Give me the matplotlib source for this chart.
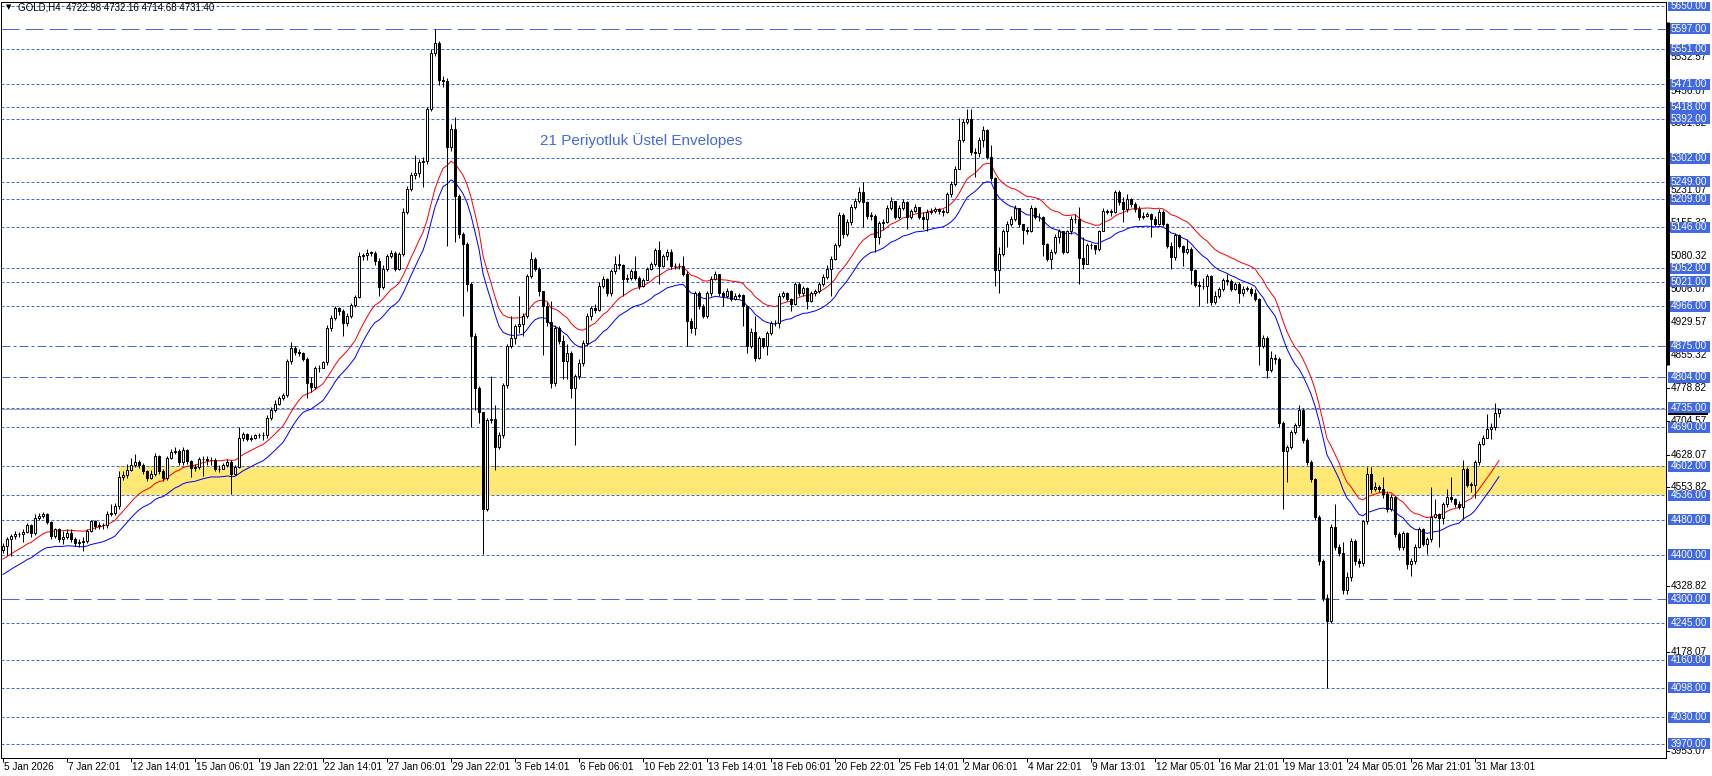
import numpy as np
import matplotlib
matplotlib.use("Agg")
import matplotlib.pyplot as plt
from matplotlib.patches import Rectangle

plt.rcParams['font.family'] = ['Liberation Sans', 'DejaVu Sans']
plt.rcParams['lines.scale_dashes'] = False

W, H = 1712, 776
PX = 0.72  # one pixel in points (dpi 100)
BLUE = '#4169E1'

# ---------------- data ----------------
symbol_info = "GOLD,H4  4722.98 4732.16 4714.68 4731.40"
first_open = 4410

closes = [
    4420, 4436, 4442, 4448, 4447, 4453, 4468, 4450, 4485, 4489,
    4492, 4474, 4442, 4458, 4436, 4440, 4450, 4436, 4428, 4430,
    4432, 4455, 4476, 4465, 4468, 4467, 4492, 4495, 4512, 4578,
    4582, 4594, 4605, 4611, 4605, 4590, 4575, 4585, 4626, 4590,
    4574, 4620, 4634, 4637, 4612, 4638, 4613, 4597, 4600, 4618,
    4619, 4616, 4615, 4595, 4596, 4605, 4612, 4585, 4600, 4665,
    4674, 4664, 4666, 4672, 4673, 4673, 4712, 4730, 4743, 4758,
    4763, 4840, 4870, 4862, 4860, 4845, 4790, 4782, 4825, 4826,
    4838, 4916, 4938, 4961, 4955, 4927, 4944, 4969, 4987, 5079,
    5082, 5088, 5088, 5068, 5010, 5050, 5079, 5088, 5051, 5085,
    5181, 5232, 5265, 5268, 5294, 5296, 5415, 5542, 5564, 5480,
    5478, 5327, 5370, 5217, 5130, 5107, 5017, 4899, 4780, 4724,
    4504, 4707, 4709, 4645, 4673, 4786, 4876, 4893, 4921, 4925,
    4944, 5034, 5074, 5051, 5000, 4966, 4930, 4792, 4916, 4887,
    4842, 4859, 4780, 4808, 4837, 4882, 4944, 4961, 4958, 5012,
    5028, 4995, 5045, 5062, 5060, 5028, 5030, 5045, 5030, 5012,
    5025, 5051, 5062, 5093, 5057, 5081, 5090, 5057, 5058, 5057,
    5040, 4933, 4916, 4995, 4966, 4944, 4995, 5028, 5040, 4995,
    4990, 5000, 4983, 4989, 4991, 4966, 4876, 4908, 4848, 4893,
    4876, 4904, 4927, 4927, 4989, 4995, 4983, 4970, 5017, 4995,
    5008, 4978, 4995, 5000, 5017, 5032, 5051, 5074, 5104, 5174,
    5130, 5158, 5192, 5206, 5226, 5203, 5172, 5172, 5124, 5156,
    5158, 5190, 5206, 5169, 5190, 5203, 5169, 5183, 5192, 5169,
    5164, 5181, 5183, 5187, 5183, 5181, 5220, 5243, 5277, 5344,
    5384, 5392, 5316, 5314, 5344, 5367, 5305, 5257, 5048, 5085,
    5136, 5153, 5164, 5190, 5153, 5140, 5138, 5190, 5169, 5169,
    5107, 5074, 5090, 5124, 5138, 5090, 5136, 5164, 5164, 5075,
    5062, 5104, 5104, 5096, 5136, 5183, 5181, 5181, 5226, 5203,
    5186, 5209, 5198, 5186, 5169, 5170, 5175, 5164, 5153, 5181,
    5153, 5102, 5077, 5127, 5102, 5090, 5096, 5048, 5014, 5012,
    5012, 5034, 4975, 4990, 5006, 5025, 5023, 5006, 5017, 4995,
    5006, 5006, 4995, 4983, 4876, 4893, 4820, 4848, 4845, 4701,
    4637, 4645, 4679, 4696, 4730, 4662, 4611, 4572, 4487, 4385,
    4301, 4250, 4464, 4419, 4405, 4320, 4350, 4431, 4385, 4382,
    4476, 4583, 4549, 4555, 4550, 4538, 4504, 4532, 4447, 4419,
    4450, 4380, 4385, 4419, 4459, 4425, 4436, 4487, 4493, 4484,
    4515, 4532, 4526, 4515, 4510, 4596, 4560, 4560, 4611, 4653,
    4667, 4687, 4690, 4722.98, 4731.40]

highs = [
    4428, 4440, 4448, 4455, 4452, 4458, 4472, 4470, 4492, 4496,
    4498, 4495, 4476, 4462, 4462, 4455, 4458, 4460, 4440, 4436,
    4440, 4458, 4480, 4480, 4474, 4472, 4500, 4515, 4518, 4590,
    4590, 4606, 4620, 4630, 4615, 4610, 4592, 4592, 4632, 4628,
    4595, 4625, 4642, 4645, 4640, 4645, 4642, 4615, 4606, 4622,
    4626, 4624, 4622, 4620, 4605, 4610, 4618, 4615, 4605, 4690,
    4680, 4678, 4672, 4676, 4678, 4680, 4718, 4736, 4752, 4762,
    4768, 4846, 4885, 4875, 4868, 4862, 4850, 4805, 4830, 4832,
    4842, 4922, 4945, 4966, 4965, 4960, 4950, 4972, 4992, 5090,
    5088, 5095, 5092, 5092, 5075, 5060, 5085, 5094, 5092, 5090,
    5190, 5240, 5272, 5310, 5300, 5305, 5420, 5550, 5596, 5570,
    5490, 5485, 5380, 5397, 5220, 5135, 5111, 5020, 4905, 4785,
    4726, 4712, 4808, 4741, 4680, 4790, 4880, 4944, 4925, 4989,
    4950, 5040, 5090, 5077, 5055, 4990, 4975, 4978, 4922, 4920,
    4900, 4880, 4865, 4812, 4845, 4888, 4950, 4966, 4970, 5020,
    5035, 5030, 5050, 5079, 5085, 5062, 5038, 5050, 5079, 5035,
    5030, 5055, 5066, 5098, 5115, 5085, 5096, 5096, 5064, 5063,
    5081, 5045, 4940, 5000, 5000, 4970, 5000, 5035, 5045, 5040,
    5000, 5008, 5002, 4995, 4996, 4993, 4968, 4916, 4944, 4898,
    4893, 4910, 4932, 4935, 4995, 5000, 4998, 4985, 5022, 5020,
    5012, 5010, 5000, 5006, 5022, 5040, 5060, 5080, 5110, 5180,
    5178, 5165, 5198, 5212, 5238, 5248, 5205, 5180, 5175, 5160,
    5165, 5195, 5215, 5206, 5195, 5210, 5206, 5188, 5198, 5192,
    5180, 5186, 5190, 5192, 5190, 5188, 5226, 5250, 5284, 5395,
    5392, 5415, 5415, 5325, 5350, 5375, 5370, 5333, 5260, 5100,
    5142, 5160, 5170, 5195, 5190, 5152, 5145, 5195, 5192, 5178,
    5172, 5110, 5095, 5130, 5142, 5138, 5140, 5170, 5175, 5192,
    5124, 5110, 5110, 5106, 5140, 5190, 5188, 5186, 5231, 5230,
    5215, 5220, 5212, 5202, 5194, 5180, 5180, 5178, 5170, 5186,
    5184, 5156, 5113, 5132, 5130, 5104, 5119, 5100, 5050, 5023,
    5030, 5040, 5036, 5000, 5010, 5030, 5040, 5028, 5022, 5020,
    5012, 5012, 5010, 5006, 4985, 4900, 4898, 4865, 4858, 4850,
    4705, 4650, 4685, 4700, 4741, 4735, 4666, 4615, 4575, 4490,
    4390, 4310, 4470, 4515, 4425, 4430, 4360, 4438, 4436, 4392,
    4480, 4600, 4600, 4565, 4560, 4577, 4545, 4538, 4535, 4452,
    4455, 4452, 4392, 4424, 4464, 4462, 4440, 4555, 4526, 4496,
    4520, 4549, 4577, 4530, 4522, 4617, 4600, 4565, 4616, 4658,
    4672, 4720, 4701, 4746, 4732.16]

lows = [
    4405, 4400, 4397, 4435, 4440, 4430, 4450, 4440, 4445, 4480,
    4484, 4470, 4436, 4438, 4430, 4425, 4436, 4430, 4420, 4418,
    4408, 4428, 4452, 4460, 4458, 4460, 4462, 4488, 4490, 4505,
    4570, 4575, 4590, 4600, 4598, 4585, 4568, 4572, 4580, 4585,
    4568, 4570, 4618, 4630, 4605, 4605, 4606, 4578, 4590, 4596,
    4580, 4605, 4605, 4590, 4588, 4595, 4600, 4538, 4582, 4598,
    4660, 4658, 4660, 4664, 4666, 4662, 4666, 4708, 4725, 4740,
    4752, 4760, 4835, 4855, 4852, 4840, 4758, 4770, 4778, 4815,
    4825, 4832, 4910, 4935, 4945, 4899, 4920, 4940, 4965, 4985,
    5070, 5072, 5080, 5060, 4989, 5005, 5045, 5075, 5045, 5048,
    5080, 5175, 5228, 5255, 5260, 5237, 5290, 5410, 5535, 5470,
    5465, 5102, 5320, 5113, 5120, 4944, 5000, 4690, 4730, 4700,
    4402, 4500, 4700, 4594, 4640, 4665, 4780, 4870, 4880, 4905,
    4899, 4940, 5030, 5045, 4990, 4854, 4920, 4780, 4785, 4880,
    4800, 4800, 4758, 4651, 4800, 4830, 4876, 4935, 4950, 4955,
    5008, 4990, 4990, 5040, 5050, 4989, 5020, 5025, 5025, 5005,
    5010, 5025, 5048, 5058, 5017, 5055, 5072, 5050, 5050, 5050,
    5035, 4876, 4905, 4900, 4960, 4938, 4940, 4990, 5025, 4990,
    4966, 4985, 4978, 4980, 4985, 4921, 4859, 4870, 4842, 4845,
    4870, 4855, 4900, 4920, 4916, 4985, 4978, 4955, 4968, 4990,
    4990, 4960, 4975, 4990, 4995, 5012, 5028, 4989, 5070, 5100,
    5120, 5125, 5150, 5188, 5200, 5145, 5165, 5162, 5090, 5107,
    5140, 5155, 5185, 5165, 5165, 5185, 5141, 5165, 5180, 5165,
    5141, 5136, 5176, 5178, 5176, 5172, 5178, 5215, 5240, 5277,
    5340, 5380, 5310, 5260, 5305, 5327, 5300, 5250, 5012, 4995,
    5080, 5100, 5148, 5160, 5145, 5107, 5130, 5135, 5165, 5160,
    5079, 5068, 5051, 5085, 5110, 5085, 5088, 5130, 5155, 5017,
    5051, 5062, 5095, 5085, 5092, 5136, 5175, 5172, 5178, 5195,
    5158, 5180, 5192, 5180, 5162, 5165, 5168, 5124, 5148, 5150,
    5148, 5098, 5051, 5070, 5098, 5057, 5085, 5017, 5010, 4966,
    5005, 4972, 4968, 4970, 4985, 5000, 5015, 5000, 5002, 4972,
    4990, 5000, 4990, 4978, 4831, 4870, 4803, 4815, 4835, 4690,
    4504, 4566, 4640, 4675, 4690, 4655, 4605, 4565, 4480, 4378,
    4295, 4098, 4244, 4410, 4398, 4310, 4310, 4340, 4378, 4372,
    4375, 4470, 4540, 4545, 4542, 4530, 4498, 4500, 4440, 4412,
    4412, 4368, 4352, 4380, 4415, 4420, 4402, 4430, 4485, 4419,
    4470, 4510, 4520, 4510, 4505, 4481, 4555, 4543, 4530, 4605,
    4650, 4665, 4664, 4685, 4714.68]

# envelopes: 21 period exponential, +-0.4 %
env_period = 21
env_dev = 0.4
ema_start = 4373

date_labels = ["5 Jan 2026", "7 Jan 22:01", "12 Jan 14:01", "15 Jan 06:01",
               "19 Jan 22:01", "22 Jan 14:01", "27 Jan 06:01", "29 Jan 22:01",
               "3 Feb 14:01", "6 Feb 06:01", "10 Feb 22:01", "13 Feb 14:01",
               "18 Feb 06:01", "20 Feb 22:01", "25 Feb 14:01", "2 Mar 06:01",
               "4 Mar 22:01", "9 Mar 13:01", "12 Mar 05:01", "16 Mar 21:01",
               "19 Mar 13:01", "24 Mar 05:01", "26 Mar 21:01", "31 Mar 13:01"]
date_step = 16

levels = [5650, 5597, 5551, 5471, 5418, 5392, 5302, 5249, 5209, 5146, 5052,
          5021, 4966, 4875, 4804, 4735, 4690, 4602, 4536, 4480, 4400, 4300,
          4245, 4160, 4098, 4030, 3970]
level_styles = ['dot', 'dash', 'dot', 'dot', 'dot', 'dot', 'dot', 'dot', 'dot',
                'dot', 'dot', 'dot', 'dot', 'dashdot', 'dashdot', 'dot', 'dot',
                'dot', 'dot', 'dot', 'dot', 'dash', 'dot', 'dot', 'dot', 'dot', 'dot']

# price scale ticks that are not covered by a level label
scale_ticks = [5532.57, 5456.07, 5381.82, 5231.07, 5155.32, 5080.32, 5006.07,
               4929.57, 4855.32, 4778.82, 4704.57, 4628.07, 4553.82, 4328.82,
               4178.07, 3953.07]

zone_low, zone_high = 4536, 4602
zone_start = 29
bid = 4731.40
note = "21 Periyotluk Üstel Envelopes"

y_top, y_bottom = 5658.0, 3937.8

# ---------------- figure ----------------
fig = plt.figure(figsize=(W / 100, H / 100), dpi=100)
ax = fig.add_axes([1 / W, 18 / H, 1665 / W, 756 / H])
n = len(closes)
ax.set_xlim(-0.5, 415.75)
ax.set_ylim(y_bottom, y_top)

opens = [first_open] + closes[:-1]
o = np.array(opens, float)
c = np.array(closes, float)
hi = np.maximum(np.array(highs, float), np.maximum(o, c))
lo = np.minimum(np.array(lows, float), np.minimum(o, c))
x = np.arange(n)

# yellow zone
ax.add_patch(Rectangle((zone_start, zone_low), 500, zone_high - zone_low,
                       facecolor='#FFE873', edgecolor='none', zorder=1))

dash_map = {'dot': (0, (3 * PX, 2 * PX)),
            'dash': (0, (18 * PX, 6 * PX)),
            'dashdot': (0, (9 * PX, 3 * PX, 3 * PX, 3 * PX))}
for lv, st in zip(levels, level_styles):
    ax.axhline(lv, color=BLUE, lw=PX, linestyle=dash_map[st], zorder=2)
ax.axhline(bid, color='#A3A9B8', lw=PX, zorder=2)

# envelopes
alpha = 2.0 / (env_period + 1)
ema = []
prev = ema_start
for i, v in enumerate(c):
    if i > 0:
        prev = prev + alpha * (v - prev)
    ema.append(prev)
ema = np.array(ema)
ax.plot(x, ema * (1 + env_dev / 100), color='#FF0000', lw=PX, zorder=3)
ax.plot(x, ema * (1 - env_dev / 100), color='#0000FF', lw=PX, zorder=3)

# candles
ax.vlines(x, lo, hi, color='black', lw=PX, zorder=4)
up = c >= o
body_h = np.maximum(np.abs(c - o), 0.6)
ax.bar(x[up], body_h[up], bottom=o[up], width=0.5, color='white',
       edgecolor='black', lw=PX, zorder=5)
ax.bar(x[~up], body_h[~up], bottom=c[~up], width=0.5, color='black',
       edgecolor='black', lw=PX, zorder=5)

ax.text(134.25, 5343, note, color=BLUE, fontsize=11, va='center', ha='left', zorder=6)

# frame and time scale
for s in ax.spines.values():
    s.set_color('black')
    s.set_linewidth(PX)
ax.set_yticks([])
tick_idx = [k * date_step for k in range(len(date_labels))]
ax.set_xticks(tick_idx)
ax.tick_params(axis='x', direction='out', length=4 * PX, width=PX, labelbottom=False)
for t, lab in zip(tick_idx, date_labels):
    ax.annotate(lab, xy=(t, 0), xycoords=ax.get_xaxis_transform(),
                xytext=(0.5 * PX, -9 * PX), textcoords='offset points',
                ha='left', va='center', fontsize=7.2)

# price scale
ax2 = fig.add_axes([1666 / W, 18 / H, 46 / W, 756 / H])
ax2.set_xlim(0, 46)
ax2.set_ylim(y_bottom, y_top)
ax2.axis('off')
for t in scale_ticks:
    ax2.plot([0, 3], [t, t], color='black', lw=PX, zorder=1)
    ax2.text(5, t, f"{t:.2f}", ha='left', va='center', fontsize=7.2, zorder=2)
box_h = 25
ax2.add_patch(Rectangle((2, bid - box_h / 2), 40, box_h, facecolor='black',
                        edgecolor='none', zorder=3))
for lv in levels:
    ax2.add_patch(Rectangle((2, lv - box_h / 2), 42, box_h, facecolor=BLUE,
                            edgecolor='none', zorder=4))
    ax2.text(5, lv, f"{lv:.2f}", ha='left', va='center', fontsize=7.2,
             color='white', zorder=5)
ax2.plot([1.5, 1.5], [4832, 5612], color='black', lw=3 * PX,
         solid_capstyle='butt', zorder=6)

# header
fig.text(6 / W, 1 - 7 / H, '\u25BC', fontsize=5, family='DejaVu Sans', va='center')
fig.text(18 / W, 1 - 7.5 / H, symbol_info, fontsize=7, va='center')

fig.savefig('out.png', dpi=100)
